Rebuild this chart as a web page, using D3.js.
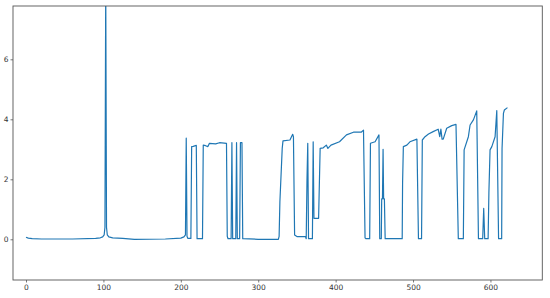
<!DOCTYPE html>
<html>
<head>
<meta charset="utf-8">
<script src="https://cdn.jsdelivr.net/npm/d3@7"></script>
<style>
  html, body { margin: 0; padding: 0; background: #fff; }
  svg { display: block; }
</style>
</head>
<body>
<svg id="chart" width="550" height="298"></svg>
<script>
// Breakpoints of the series (x = sample index, y = value)
const xValues = [0, 3, 8, 20, 60, 90, 96, 99, 101, 102, 103, 104, 105, 107, 112, 125, 140, 180, 200, 204, 206, 207, 208, 209, 213, 214, 216, 220, 221, 228, 229, 232, 235, 237, 245, 250, 259, 260, 261, 265, 266, 267, 271, 272, 273, 276, 277, 279, 280, 300, 326, 327, 328, 331, 332, 341, 344.5, 345.5, 347, 350, 361, 362, 363, 364, 365, 370, 371, 372, 378, 380, 384, 388, 390, 394, 405, 414, 423, 433, 436, 438, 439, 444, 445, 451, 456, 457, 459, 459.5, 460.5, 461.3, 462, 463, 464, 486, 486.5, 487.5, 492, 496, 505, 507, 511, 512, 515.5, 520, 526, 532.5, 534.5, 536, 537.5, 539, 543.5, 550, 555.5, 558.5, 565, 566, 571.5, 573.7, 578, 582.3, 584.5, 590, 591.3, 592.6, 597, 598, 599.5, 601.8, 606, 608.2, 610.5, 614.5, 615, 616.8, 618, 622];
const yValues = [0.07, 0.04, 0.02, 0.01, 0.01, 0.03, 0.05, 0.08, 0.15, 0.4, 8.5, 0.4, 0.15, 0.08, 0.05, 0.03, 0.0, 0.01, 0.04, 0.08, 0.15, 3.37, 0.1, 0.03, 0.03, 3.09, 3.1, 3.13, 0.02, 0.02, 3.14, 3.12, 3.09, 3.2, 3.18, 3.22, 3.2, 0.1, 0.02, 0.02, 3.22, 0.02, 0.02, 3.22, 0.02, 0.02, 3.22, 3.22, 0.02, 0.0, 0.0, 0.1, 1.25, 3.03, 3.28, 3.31, 3.5, 3.42, 0.14, 0.09, 0.09, 0.02, 1.98, 3.2, 0.02, 0.02, 3.25, 0.7, 0.7, 3.03, 3.05, 3.14, 3.03, 3.14, 3.25, 3.48, 3.57, 3.57, 3.64, 0.05, 0.02, 0.02, 3.2, 3.25, 3.48, 0.02, 0.02, 1.35, 1.35, 3.0, 1.35, 1.35, 0.02, 0.02, 1.87, 3.09, 3.14, 3.25, 3.34, 0.02, 0.02, 3.31, 3.42, 3.51, 3.59, 3.67, 3.42, 3.67, 3.34, 3.34, 3.7, 3.79, 3.83, 0.02, 0.02, 2.98, 3.42, 3.81, 3.98, 4.28, 0.02, 0.02, 1.03, 0.02, 0.02, 1.54, 2.98, 3.09, 3.42, 4.29, 0.02, 0.02, 3.03, 4.2, 4.31, 4.39];
const xTicks = [0, 100, 200, 300, 400, 500, 600];
const yTicks = [0, 2, 4, 6];

const data = xValues.map((x, i) => ({ x: x, y: yValues[i] }));

const svg = d3.select("#chart");
const pLeft = 13, pRight = 542.3, pTop = 6, pBottom = 280;

const x = d3.scaleLinear().domain([-16.8, 667]).range([pLeft, pRight]);
const y = d3.scaleLinear().domain([-1.357, 7.777]).range([pBottom, pTop]);

svg.append("defs").append("clipPath").attr("id", "clip")
  .append("rect").attr("x", pLeft).attr("y", pTop)
  .attr("width", pRight - pLeft).attr("height", pBottom - pTop);

svg.append("path")
  .datum(data)
  .attr("clip-path", "url(#clip)")
  .attr("fill", "none")
  .attr("stroke", "#1f77b4")
  .attr("stroke-width", 1.2)
  .attr("stroke-linejoin", "round")
  .attr("d", d3.line().x(d => x(d.x)).y(d => y(d.y)));

// Frame
svg.append("rect")
  .attr("x", pLeft).attr("y", pTop)
  .attr("width", pRight - pLeft).attr("height", pBottom - pTop)
  .attr("fill", "none").attr("stroke", "#555").attr("stroke-width", 0.9);

const xAxis = d3.axisBottom(x).tickValues(xTicks).tickSize(2.5).tickPadding(2).tickFormat(d3.format("d"));
const gx = svg.append("g").attr("transform", `translate(0,${pBottom})`).call(xAxis);
gx.select(".domain").remove();

const yAxis = d3.axisLeft(y).tickValues(yTicks).tickSize(2.5).tickPadding(2).tickFormat(d3.format("d"));
const gy = svg.append("g").attr("transform", `translate(${pLeft},0)`).call(yAxis);
gy.select(".domain").remove();

[gx, gy].forEach(g => {
  g.selectAll("line").attr("stroke", "#555").attr("stroke-width", 0.8);
  g.selectAll("text").attr("fill", "#333")
    .style("font-family", "DejaVu Sans, sans-serif").style("font-size", "7.5px");
});
</script>
</body>
</html>
